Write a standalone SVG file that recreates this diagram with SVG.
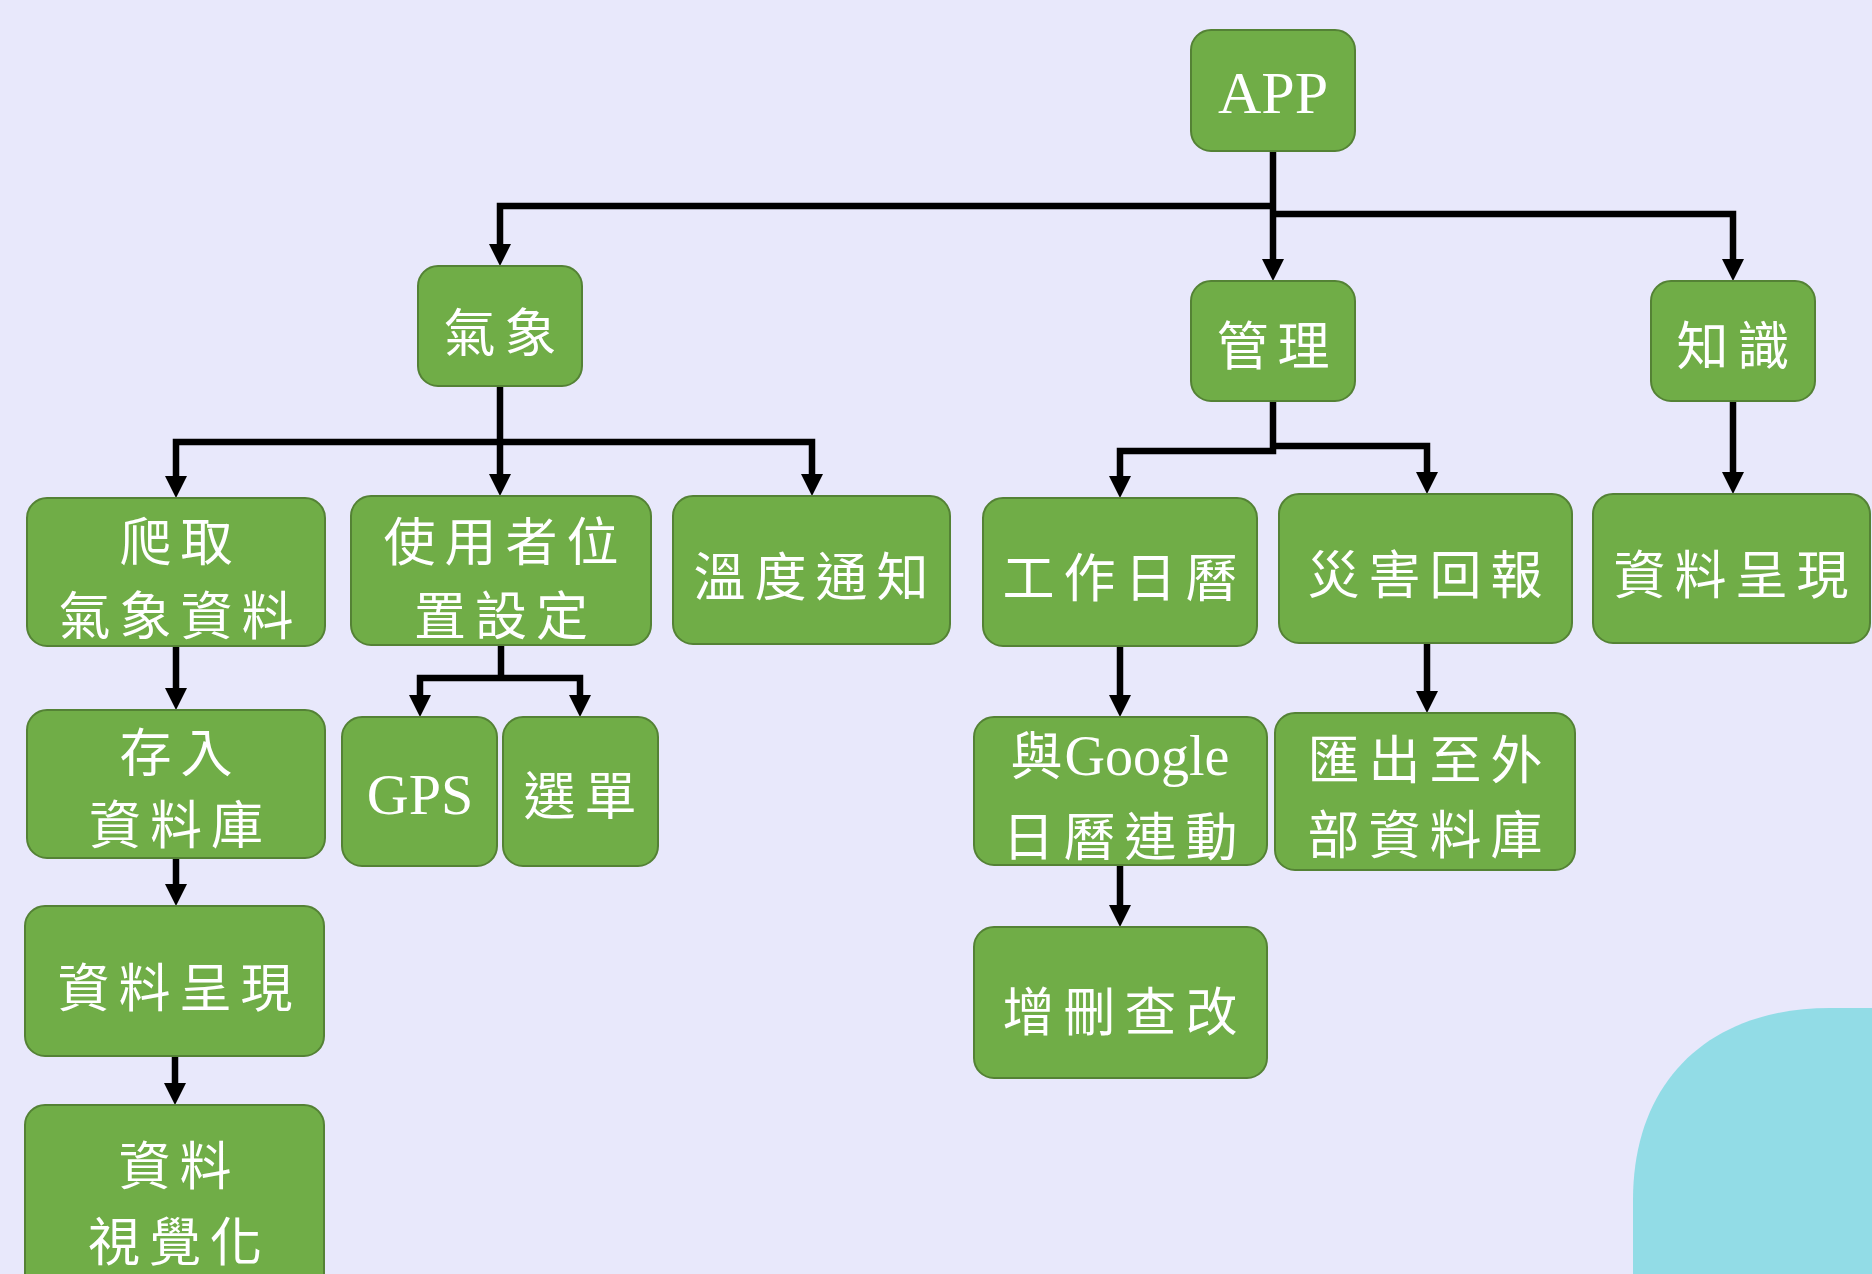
<svg xmlns="http://www.w3.org/2000/svg" width="1872" height="1274" viewBox="0 0 1872 1274">
<defs>
<marker id="ah" markerUnits="userSpaceOnUse" markerWidth="22" markerHeight="22" viewBox="0 0 22 22" refX="10" refY="11" orient="auto">
<path d="M0,0 L22,11 L0,22 Z" fill="#000"/>
</marker>
</defs>
<style>
.bg{fill:#e8e8fb}
.blob{fill:#92dce6}
.box{fill:#70ad47;stroke:#548235;stroke-width:2}
.t{fill:#fff;font-family:"Liberation Serif","Noto Sans CJK TC",serif;font-size:52px;letter-spacing:9px;text-anchor:middle}
.l{fill:#fff;font-family:"Liberation Serif","Noto Sans CJK TC",serif;text-anchor:middle}
.c{fill:none;stroke:#000;stroke-width:6.5;stroke-linejoin:miter}
.a{marker-end:url(#ah)}
</style>
<rect class="bg" x="0" y="0" width="1872" height="1274"/>
<path class="blob" d="M1633 1274 V1200 C1633 1080 1710 1008 1830 1008 H1872 V1274 Z"/>

<g id="connectors">
<path class="c a" d="M1273 151 V269"/>
<path class="c a" d="M1273 206 H500 V254"/>
<path class="c a" d="M1273 214 H1733 V269"/>
<path class="c a" d="M500 386 V484"/>
<path class="c a" d="M500 442 H176 V486"/>
<path class="c a" d="M500 442 H812 V484"/>
<path class="c a" d="M1273 401 V451 H1120 V486"/>
<path class="c a" d="M1273 446 H1427 V482"/>
<path class="c a" d="M1733 401 V482"/>
<path class="c a" d="M176 646 V698"/>
<path class="c" d="M501 645 V678"/>
<path class="c a" d="M501 678 H420 V705"/>
<path class="c a" d="M501 678 H580 V705"/>
<path class="c a" d="M176 858 V894"/>
<path class="c a" d="M175 1056 V1093"/>
<path class="c a" d="M1120 646 V705"/>
<path class="c a" d="M1427 643 V701"/>
<path class="c a" d="M1120 865 V915"/>
</g>

<g id="n-app"><rect class="box" x="1191" y="30" width="164" height="121" rx="20"/><text class="l" x="1273" y="113" font-size="60">APP</text></g>
<g id="n-weather"><rect class="box" x="418" y="266" width="164" height="120" rx="20"/><text class="t" x="504.5" y="352">氣象</text></g>
<g id="n-manage"><rect class="box" x="1191" y="281" width="164" height="120" rx="20"/><text class="t" x="1277.5" y="365">管理</text></g>
<g id="n-knowledge"><rect class="box" x="1651" y="281" width="164" height="120" rx="20"/><text class="t" x="1737.5" y="365">知識</text></g>

<g id="n-crawl"><rect class="box" x="27" y="498" width="298" height="148" rx="20"/><text class="t" x="180.5" y="561">爬取</text><text class="t" x="180.5" y="635">氣象資料</text></g>
<g id="n-location"><rect class="box" x="351" y="496" width="300" height="149" rx="20"/><text class="t" x="505.5" y="561">使用者位</text><text class="t" x="505.5" y="635">置設定</text></g>
<g id="n-temp"><rect class="box" x="673" y="496" width="277" height="148" rx="20"/><text class="t" x="815.5" y="596">溫度通知</text></g>
<g id="n-calendar"><rect class="box" x="983" y="498" width="274" height="148" rx="20"/><text class="t" x="1124.5" y="597">工作日曆</text></g>
<g id="n-disaster"><rect class="box" x="1279" y="494" width="293" height="149" rx="20"/><text class="t" x="1429.5" y="594">災害回報</text></g>
<g id="n-present-k"><rect class="box" x="1593" y="494" width="277" height="149" rx="20"/><text class="t" x="1735.5" y="594">資料呈現</text></g>

<g id="n-store"><rect class="box" x="27" y="710" width="298" height="148" rx="20"/><text class="t" x="180.5" y="772">存入</text><text class="t" x="180.5" y="844">資料庫</text></g>
<g id="n-gps"><rect class="box" x="342" y="717" width="155" height="149" rx="20"/><text class="l" x="420" y="814" font-size="58">GPS</text></g>
<g id="n-menu"><rect class="box" x="503" y="717" width="155" height="149" rx="20"/><text class="t" x="584.5" y="815">選單</text></g>
<g id="n-present-l"><rect class="box" x="25" y="906" width="299" height="150" rx="20"/><text class="t" x="179.5" y="1007">資料呈現</text></g>
<g id="n-visual"><rect class="box" x="25" y="1105" width="299" height="190" rx="20"/><text class="t" x="179.5" y="1185">資料</text><text class="t" x="179.5" y="1261">視覺化</text></g>

<g id="n-google"><rect class="box" x="974" y="717" width="293" height="148" rx="20"/><text class="l" x="1120" y="775"><tspan font-size="52">與</tspan><tspan font-size="56" dx="2">Google</tspan></text><text class="t" x="1124.5" y="856">日曆連動</text></g>
<g id="n-export"><rect class="box" x="1275" y="713" width="300" height="157" rx="20"/><text class="t" x="1429.5" y="779">匯出至外</text><text class="t" x="1429.5" y="854">部資料庫</text></g>
<g id="n-crud"><rect class="box" x="974" y="927" width="293" height="151" rx="20"/><text class="t" x="1124.5" y="1031">增刪查改</text></g>
</svg>
